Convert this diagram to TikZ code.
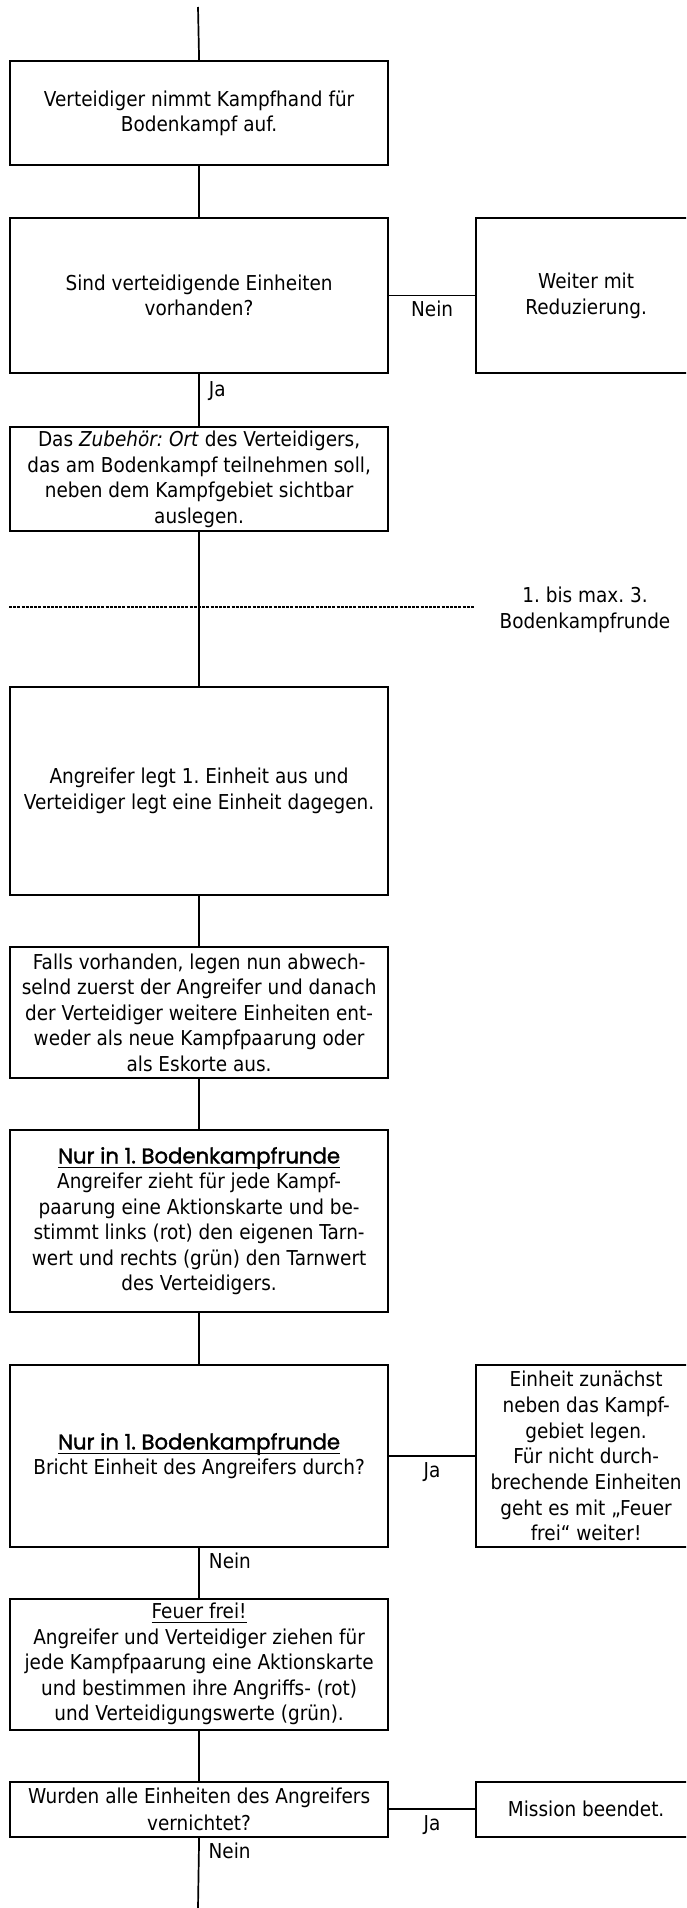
\documentclass[tikz,border=0pt]{standalone}
\usepackage{fontspec}
\setmainfont{DejaVu Sans}[FakeStretch=0.9]
\newfontfamily\headfont{Poppins}[FakeBold=1.6]
\newsavebox{\ulbox}
\newcommand{\ulline}[1]{\sbox{\ulbox}{#1}\rlap{\usebox{\ulbox}}\rule[-4.5pt]{\wd\ulbox}{1.2pt}}
\newcommand{\headline}[1]{{\headfont\fontsize{21.2}{25.5}\selectfont\ulline{#1}}}
\begin{document}
\frenchspacing
\begin{tikzpicture}[x=1pt,y=-1pt,
  every node/.style={font=\fontsize{20.5}{25.5}\selectfont},
  box/.style={draw,line width=2.2pt,inner sep=0pt,align=center,anchor=north west,minimum width=378pt},
  rbox/.style={draw,line width=2.2pt,inner sep=0pt,align=center,anchor=north west,minimum width=220pt},
  conn/.style={line width=1.7pt},
  vlbl/.style={inner sep=0pt,anchor=base west,xshift=9pt},
  hlbl/.style={inner sep=0pt,anchor=base,midway,yshift=-21pt},
  sep/.style={line width=1.6pt,dash pattern=on 3pt off 1.2pt},
]
\useasboundingbox (0,0) rectangle (686,1908);
\clip (0,0) rectangle (686,1908);

\node[box,minimum height=104pt] (b1) at (9,60)
  {Verteidiger nimmt Kampfhand für\\Bodenkampf auf.};
\node[box,minimum height=155pt] (b2) at (9,217)
  {Sind verteidigende Einheiten\\vorhanden?};
\node[rbox,minimum height=155pt] (r2) at (475,217)
  {Weiter mit\\Reduzierung.};
\node[box,minimum height=104pt] (b3) at (9,426)
  {Das \textit{Zubehör: Ort} des Verteidigers,\\das am Bodenkampf teilnehmen soll,\\neben dem Kampfgebiet sichtbar\\auslegen.};
\node[box,minimum height=207.5pt] (b4) at (9,686)
  {Angreifer legt 1. Einheit aus und\\Verteidiger legt eine Einheit dagegen.};
\node[box,minimum height=131pt] (b5) at (9,946)
  {Falls vorhanden, legen nun abwech-\\selnd zuerst der Angreifer und danach\\der Verteidiger weitere Einheiten ent-\\weder als neue Kampfpaarung oder\\als Eskorte aus.};
\node[box,minimum height=182pt] (b6) at (9,1129)
  {\headline{Nur in 1. Bodenkampfrunde}\\Angreifer zieht für jede Kampf-\\paarung eine Aktionskarte und be-\\stimmt links (rot) den eigenen Tarn-\\wert und rechts (grün) den Tarnwert\\des Verteidigers.};
\node[box,minimum height=182pt] (b7) at (9,1364)
  {\headline{Nur in 1. Bodenkampfrunde}\\Bricht Einheit des Angreifers durch?};
\node[rbox,minimum height=182pt,font=\fontsize{20.5}{25.7}\selectfont] (r7) at (475,1364)
  {Einheit zunächst\\neben das Kampf-\\gebiet legen.\\Für nicht durch-\\brechende Einheiten\\geht es mit „Feuer\\frei“ weiter!};
\node[box,minimum height=131pt] (b8) at (9,1597.5)
  {\ulline{Feuer frei!}\\Angreifer und Verteidiger ziehen für\\jede Kampfpaarung eine Aktionskarte\\und bestimmen ihre Angriffs- (rot)\\und Verteidigungswerte (grün).};
\node[box,minimum height=55pt,font=\fontsize{20.5}{26.5}\selectfont] (b9) at (9,1780.7)
  {Wurden alle Einheiten des Angreifers\\vernichtet?};
\node[rbox,minimum height=55pt] (r9) at (475,1780.7)
  {Mission beendet.};

\coordinate (top) at (198,7);
\coordinate (bot) at (198,1908);
\coordinate (dl) at (9,606.7);
\coordinate (dr) at (475,606.7);

\draw[sep] (dl) -- (dr);
\node[align=center,inner sep=0pt] (rnd) at (585,610) {1. bis max. 3.\\Bodenkampfrunde};

\draw[conn] (top) -- (b1.north);
\draw[conn] (b1) -- (b2);
\draw[conn] (b2) -- node[vlbl,pos=0.44] {Ja} (b3);
\draw[conn] (b2) -- node[hlbl] {Nein} (r2);
\draw[conn] (b3) -- (b4);
\draw[conn] (b4) -- (b5);
\draw[conn] (b5) -- (b6);
\draw[conn] (b6) -- (b7);
\draw[conn] (b7) -- node[hlbl] {Ja} (r7);
\draw[conn] (b7) -- node[vlbl,pos=0.41] {Nein} (b8);
\draw[conn] (b8) -- (b9);
\draw[conn] (b9) -- node[hlbl] {Ja} (r9);
\draw[conn] (b9.south) -- node[vlbl,pos=0.29] {Nein} (bot);
\end{tikzpicture}
\end{document}
